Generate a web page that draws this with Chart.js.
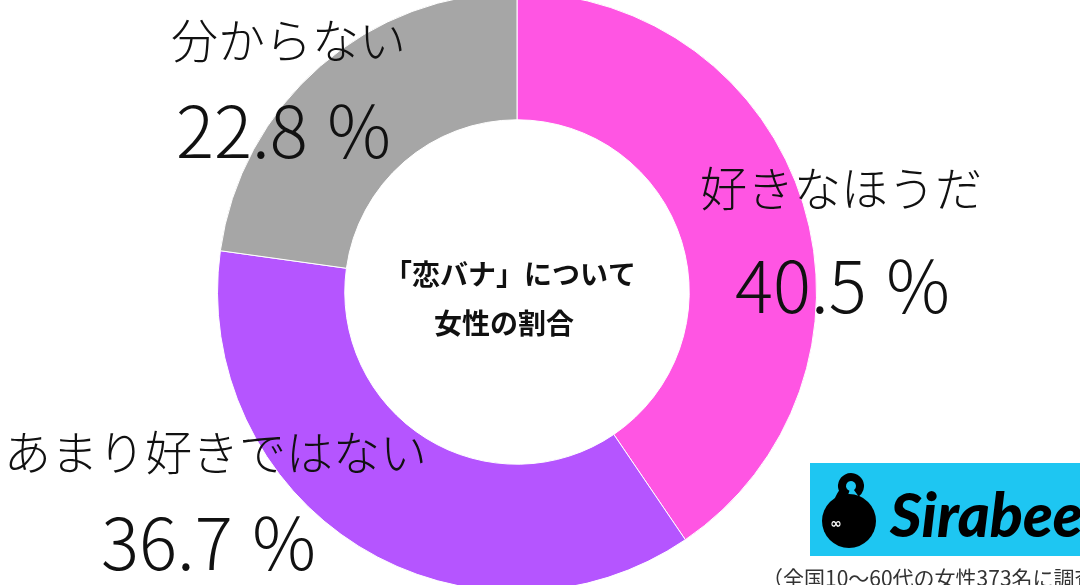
<!DOCTYPE html>
<html>
<head>
<meta charset="utf-8">
<script src="https://cdn.jsdelivr.net/npm/chart.js@4"></script>
<style>
  html, body { margin: 0; padding: 0; background: #fff; overflow: hidden; }
  body { width: 1080px; height: 585px; position: relative; }
  #wrap { position: absolute; left: 0; top: -8px; width: 1080px; height: 600px; }
</style>
</head>
<body>
<div id="wrap"><canvas id="chart" width="1080" height="600"></canvas></div>
<script>
// data
const labels = ['好きなほうだ', 'あまり好きではない', '分からない'];
const values = [40.5, 36.7, 22.8];
const colors = ['#ff55e3', '#b555ff', '#a6a6a6'];
const centerTitle = ['「恋バナ」について', '女性の割合'];
const footnote = '（全国10～60代の女性373名に調査）';

// where each label sits (canvas coords, canvas is shifted up 8px)
const labelPos = [
    { x: 700, y: 196, px: 735, py: 294 },
    { x: 4, y: 460, px: 101, py: 551 },
    { x: 171, y: 48, px: 176, py: 139 }
];

const textPlugin = {
    id: 'texts',
    afterDraw(chart) {
        const ctx = chart.ctx;
        const meta = chart.getDatasetMeta(0);
        const cx = meta.data[0].x;
        const cy = meta.data[0].y;
        ctx.save();
        ctx.fillStyle = '#111';
        ctx.textBaseline = 'middle';

        // center title
        ctx.textAlign = 'center';
        ctx.font = 'bold 28px "Noto Sans CJK JP"';
        ctx.fillText(centerTitle[0], cx - 7, cy - 18);
        ctx.fillText(centerTitle[1], cx - 13, cy + 31);

        // segment labels
        ctx.textAlign = 'left';
        labels.forEach((lab, i) => {
            const p = labelPos[i];
            ctx.font = '300 47px "Noto Sans CJK JP"';
            ctx.fillText(lab, p.x, p.y);
            ctx.font = '300 71px "Noto Sans CJK JP"';
            ctx.fillText(values[i].toFixed(1) + ' ％', p.px, p.py);
        });

        // logo box
        ctx.fillStyle = '#1ec6f2';
        ctx.fillRect(810, 471, 280, 93);
        ctx.fillStyle = '#000';
        ctx.beginPath();
        ctx.arc(849, 529, 27, 0, Math.PI * 2);
        ctx.fill();
        ctx.lineWidth = 8;
        ctx.strokeStyle = '#000';
        ctx.beginPath();
        ctx.arc(851, 494, 9, Math.PI * 0.6, Math.PI * 2.3);
        ctx.stroke();
        ctx.beginPath();
        ctx.moveTo(843, 500);
        ctx.quadraticCurveTo(834, 512, 842, 520);
        ctx.stroke();
        ctx.fillStyle = '#fff';
        ctx.font = 'bold 14px "DejaVu Sans"';
        ctx.textAlign = 'center';
        ctx.fillText('∞', 836, 532);
        ctx.fillStyle = '#000';
        ctx.textAlign = 'left';
        ctx.font = 'italic 900 61px Lato';
        ctx.fillText('Sirabee', 890, 525);

        // footnote
        ctx.fillStyle = '#333';
        ctx.font = '21px "Noto Sans CJK JP"';
        ctx.fillText(footnote, 762, 586);
        ctx.restore();
    }
};

new Chart(document.getElementById('chart'), {
    type: 'doughnut',
    data: {
        labels: labels,
        datasets: [{
            data: values,
            backgroundColor: colors,
            borderColor: '#ffffff',
            borderWidth: 1
        }]
    },
    options: {
        responsive: false,
        animation: false,
        cutout: '57.5%',
        layout: { padding: { left: 0, right: 46, top: 0, bottom: 0 } },
        plugins: {
            legend: { display: false },
            tooltip: { enabled: false }
        }
    },
    plugins: [textPlugin]
});
</script>
</body>
</html>
